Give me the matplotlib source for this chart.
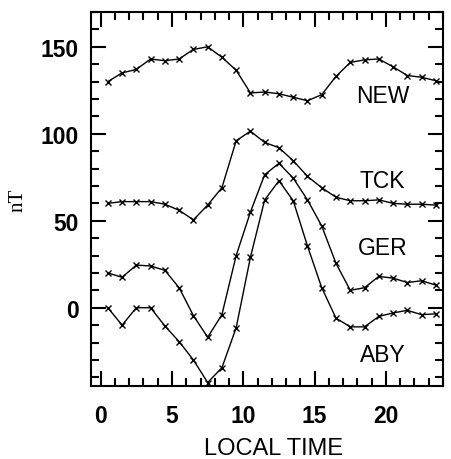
import numpy as np
import matplotlib.pyplot as plt
from matplotlib.ticker import MultipleLocator

hours = np.arange(0.5, 24, 1.0)

new = [130, 135, 137, 143, 142, 143, 148.5, 150, 144, 136.5, 123.5, 124,
       123, 121, 119, 122.5, 133, 141, 142.5, 143, 138.5, 133.5, 132.5, 130.5]
tck = [60, 61, 61, 61, 59.5, 56, 50.5, 59, 69, 96, 101.5, 95,
       92, 84.5, 75.5, 69, 63.5, 61.5, 61.5, 62, 60, 59.5, 59.5, 59]
ger = [20, 17.5, 24.5, 24, 21.5, 11.5, -4.5, -17, -4, 30, 55, 76.5,
       83, 74.5, 62, 47, 25.5, 10, 11.5, 18, 17, 14.5, 15.5, 13]
aby = [0, -10, 0, 0, -10.5, -19.5, -30, -43, -34.5, -11.5, 29, 62,
       73, 61.5, 35.5, 11.5, -6, -11, -11, -5, -3, -1.5, -4, -3.5]

stations = ['NEW', 'TCK', 'GER', 'ABY']
label_y = [122, 73, 34.5, -27]

plt.rcParams['font.family'] = ['Liberation Sans', 'DejaVu Sans']

fig = plt.figure(figsize=(4.52, 4.6), dpi=100)
ax = fig.add_axes([0.2013, 0.1587, 0.7787, 0.813])

for series in [new, tck, ger, aby]:
    ax.plot(hours, series, color='black', lw=1.0, marker='x', ms=5, mew=1.0)

for name, y in zip(stations, label_y):
    ax.text(19.75, y, name, ha='center', va='center', fontsize=16.5)

ax.set_xlim(-0.68, 24)
ax.set_ylim(-45, 170)
ax.xaxis.set_major_locator(MultipleLocator(5))
ax.xaxis.set_minor_locator(MultipleLocator(1))
ax.yaxis.set_major_locator(MultipleLocator(50))
ax.yaxis.set_minor_locator(MultipleLocator(10))
ax.tick_params(which='both', direction='in', top=True, right=True, width=1.5)
ax.tick_params(which='major', length=11, labelsize=16.5)
ax.tick_params(axis='x', which='major', pad=13)
ax.tick_params(axis='y', which='major', pad=9)
ax.tick_params(which='minor', length=6)
for lab in ax.get_xticklabels() + ax.get_yticklabels():
    lab.set_fontweight('bold')
for sp in ax.spines.values():
    sp.set_linewidth(1.5)

ax.set_xlabel('LOCAL TIME', fontsize=17, labelpad=7, x=0.52)
ax.set_ylabel('nT', fontsize=15, family='Liberation Serif', labelpad=9)

fig.savefig('out.png', dpi=100)
